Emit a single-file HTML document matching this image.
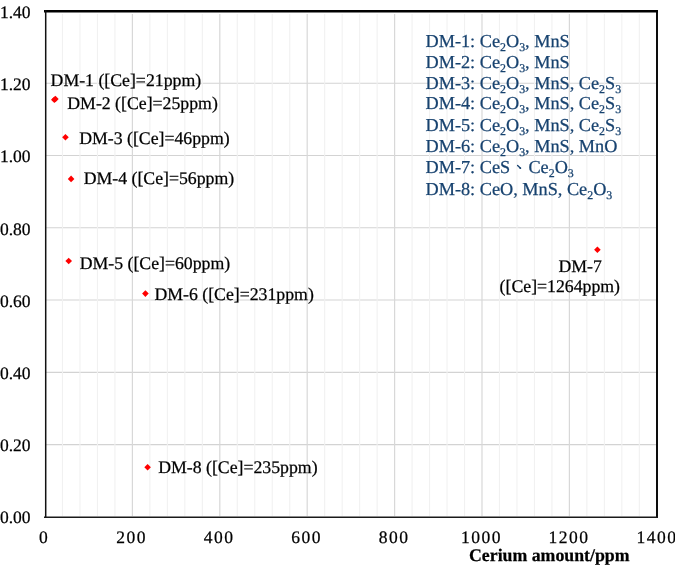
<!DOCTYPE html>
<html><head><meta charset="utf-8"><style>
html,body{margin:0;padding:0;background:#fff;}
body{width:675px;height:565px;position:relative;overflow:hidden;font-family:"Liberation Serif",serif;color:#000;text-rendering:geometricPrecision;}
div{white-space:nowrap;line-height:normal;-webkit-text-stroke:0.25px currentColor;}
</style></head><body>
<svg width="675" height="565" style="position:absolute;left:0;top:0"><line x1="46" y1="444.62" x2="656" y2="444.62" stroke="#d3d3d3" stroke-width="1.1"/>
<line x1="46" y1="372.34" x2="656" y2="372.34" stroke="#d3d3d3" stroke-width="1.1"/>
<line x1="46" y1="300.06" x2="656" y2="300.06" stroke="#d3d3d3" stroke-width="1.1"/>
<line x1="46" y1="227.78" x2="656" y2="227.78" stroke="#d3d3d3" stroke-width="1.1"/>
<line x1="46" y1="155.50" x2="656" y2="155.50" stroke="#d3d3d3" stroke-width="1.1"/>
<line x1="46" y1="83.22" x2="656" y2="83.22" stroke="#d3d3d3" stroke-width="1.1"/>
<line x1="62.48" y1="14" x2="62.48" y2="516" stroke="#f1f1f1" stroke-width="1.1"/>
<line x1="79.96" y1="14" x2="79.96" y2="516" stroke="#f1f1f1" stroke-width="1.1"/>
<line x1="97.44" y1="14" x2="97.44" y2="516" stroke="#f1f1f1" stroke-width="1.1"/>
<line x1="114.92" y1="14" x2="114.92" y2="516" stroke="#f1f1f1" stroke-width="1.1"/>
<line x1="149.88" y1="14" x2="149.88" y2="516" stroke="#f1f1f1" stroke-width="1.1"/>
<line x1="167.36" y1="14" x2="167.36" y2="516" stroke="#f1f1f1" stroke-width="1.1"/>
<line x1="184.84" y1="14" x2="184.84" y2="516" stroke="#f1f1f1" stroke-width="1.1"/>
<line x1="202.32" y1="14" x2="202.32" y2="516" stroke="#f1f1f1" stroke-width="1.1"/>
<line x1="237.28" y1="14" x2="237.28" y2="516" stroke="#f1f1f1" stroke-width="1.1"/>
<line x1="254.76" y1="14" x2="254.76" y2="516" stroke="#f1f1f1" stroke-width="1.1"/>
<line x1="272.24" y1="14" x2="272.24" y2="516" stroke="#f1f1f1" stroke-width="1.1"/>
<line x1="289.72" y1="14" x2="289.72" y2="516" stroke="#f1f1f1" stroke-width="1.1"/>
<line x1="324.68" y1="14" x2="324.68" y2="516" stroke="#f1f1f1" stroke-width="1.1"/>
<line x1="342.16" y1="14" x2="342.16" y2="516" stroke="#f1f1f1" stroke-width="1.1"/>
<line x1="359.64" y1="14" x2="359.64" y2="516" stroke="#f1f1f1" stroke-width="1.1"/>
<line x1="377.12" y1="14" x2="377.12" y2="516" stroke="#f1f1f1" stroke-width="1.1"/>
<line x1="412.08" y1="14" x2="412.08" y2="516" stroke="#f1f1f1" stroke-width="1.1"/>
<line x1="429.56" y1="14" x2="429.56" y2="516" stroke="#f1f1f1" stroke-width="1.1"/>
<line x1="447.04" y1="14" x2="447.04" y2="516" stroke="#f1f1f1" stroke-width="1.1"/>
<line x1="464.52" y1="14" x2="464.52" y2="516" stroke="#f1f1f1" stroke-width="1.1"/>
<line x1="499.48" y1="14" x2="499.48" y2="516" stroke="#f1f1f1" stroke-width="1.1"/>
<line x1="516.96" y1="14" x2="516.96" y2="516" stroke="#f1f1f1" stroke-width="1.1"/>
<line x1="534.44" y1="14" x2="534.44" y2="516" stroke="#f1f1f1" stroke-width="1.1"/>
<line x1="551.92" y1="14" x2="551.92" y2="516" stroke="#f1f1f1" stroke-width="1.1"/>
<line x1="586.88" y1="14" x2="586.88" y2="516" stroke="#f1f1f1" stroke-width="1.1"/>
<line x1="604.36" y1="14" x2="604.36" y2="516" stroke="#f1f1f1" stroke-width="1.1"/>
<line x1="621.84" y1="14" x2="621.84" y2="516" stroke="#f1f1f1" stroke-width="1.1"/>
<line x1="639.32" y1="14" x2="639.32" y2="516" stroke="#f1f1f1" stroke-width="1.1"/>
<line x1="132.40" y1="14" x2="132.40" y2="516" stroke="#d8d8d8" stroke-width="1.2"/>
<line x1="219.80" y1="14" x2="219.80" y2="516" stroke="#d8d8d8" stroke-width="1.2"/>
<line x1="307.20" y1="14" x2="307.20" y2="516" stroke="#d8d8d8" stroke-width="1.2"/>
<line x1="394.60" y1="14" x2="394.60" y2="516" stroke="#d8d8d8" stroke-width="1.2"/>
<line x1="482.00" y1="14" x2="482.00" y2="516" stroke="#d8d8d8" stroke-width="1.2"/>
<line x1="569.40" y1="14" x2="569.40" y2="516" stroke="#d8d8d8" stroke-width="1.2"/>
<line x1="44" y1="11.3" x2="658" y2="11.3" stroke="#000" stroke-width="2.6"/>
<line x1="45.7" y1="10" x2="45.7" y2="517" stroke="#111" stroke-width="1.5"/>
<line x1="657" y1="10" x2="657" y2="517" stroke="#000" stroke-width="1.9"/>
<line x1="44" y1="517.35" x2="658" y2="517.35" stroke="#1a1a1a" stroke-width="1.5"/>
<polygon points="55.4,95.7 58.699999999999996,99.0 55.4,102.3 52.1,99.0" fill="#ff0000"/>
<polygon points="54.3,96.4 57.599999999999994,99.7 54.3,103.0 51.0,99.7" fill="#ff0000"/>
<polygon points="65.45,134.0 68.75,137.3 65.45,140.60000000000002 62.150000000000006,137.3" fill="#ff0000"/>
<polygon points="71.1,175.6 74.39999999999999,178.9 71.1,182.20000000000002 67.8,178.9" fill="#ff0000"/>
<polygon points="68.7,257.7 72.0,261.0 68.7,264.3 65.4,261.0" fill="#ff0000"/>
<polygon points="145.4,290.3 148.70000000000002,293.6 145.4,296.90000000000003 142.1,293.6" fill="#ff0000"/>
<polygon points="597.4,246.39999999999998 600.6999999999999,249.7 597.4,253.0 594.1,249.7" fill="#ff0000"/>
<polygon points="147.6,464.0 150.9,467.3 147.6,470.6 144.29999999999998,467.3" fill="#ff0000"/></svg>
<div style="position:absolute;left:0;top:0;width:675px;height:565px;will-change:transform"><div style="position:absolute;right:644.5px;top:507px;font-size:17.5px">0.00</div><div style="position:absolute;right:644.5px;top:435px;font-size:17.5px">0.20</div><div style="position:absolute;right:644.5px;top:363px;font-size:17.5px">0.40</div><div style="position:absolute;right:644.5px;top:291px;font-size:17.5px">0.60</div><div style="position:absolute;right:644.5px;top:219px;font-size:17.5px">0.80</div><div style="position:absolute;right:644.5px;top:146px;font-size:17.5px">1.00</div><div style="position:absolute;right:644.5px;top:74px;font-size:17.5px">1.20</div><div style="position:absolute;right:644.5px;top:2px;font-size:17.5px">1.40</div><div style="position:absolute;left:4.00px;width:80px;text-align:center;top:527px;font-size:17.5px;letter-spacing:1.5px">0</div><div style="position:absolute;left:91.50px;width:80px;text-align:center;top:527px;font-size:17.5px;letter-spacing:1.5px">200</div><div style="position:absolute;left:179.00px;width:80px;text-align:center;top:527px;font-size:17.5px;letter-spacing:1.5px">400</div><div style="position:absolute;left:266.50px;width:80px;text-align:center;top:527px;font-size:17.5px;letter-spacing:1.5px">600</div><div style="position:absolute;left:354.00px;width:80px;text-align:center;top:527px;font-size:17.5px;letter-spacing:1.5px">800</div><div style="position:absolute;left:441.50px;width:80px;text-align:center;top:527px;font-size:17.5px;letter-spacing:1.5px">1000</div><div style="position:absolute;left:529.00px;width:80px;text-align:center;top:527px;font-size:17.5px;letter-spacing:1.5px">1200</div><div style="position:absolute;left:617.10px;width:80px;text-align:center;top:527px;font-size:17.5px;letter-spacing:1.5px">1400</div><div style="position:absolute;left:50.6px;top:70px;font-size:17.75px;color:#000;font-weight:normal;letter-spacing:0px;">DM-1 ([Ce]=21ppm)</div><div style="position:absolute;left:67.3px;top:93px;font-size:17.75px;color:#000;font-weight:normal;letter-spacing:0px;">DM-2 ([Ce]=25ppm)</div><div style="position:absolute;left:79.15px;top:128px;font-size:17.75px;color:#000;font-weight:normal;letter-spacing:0px;">DM-3 ([Ce]=46ppm)</div><div style="position:absolute;left:83.7px;top:168px;font-size:17.75px;color:#000;font-weight:normal;letter-spacing:0px;">DM-4 ([Ce]=56ppm)</div><div style="position:absolute;left:79.7px;top:253px;font-size:17.75px;color:#000;font-weight:normal;letter-spacing:0px;">DM-5 ([Ce]=60ppm)</div><div style="position:absolute;left:154.45px;top:284px;font-size:17.75px;color:#000;font-weight:normal;letter-spacing:0px;">DM-6 ([Ce]=231ppm)</div><div style="position:absolute;left:558.45px;top:256px;font-size:17.75px;color:#000;font-weight:normal;letter-spacing:0px;">DM-7</div><div style="position:absolute;left:499.6px;top:276px;font-size:17.75px;color:#000;font-weight:normal;letter-spacing:0px;">([Ce]=1264ppm)</div><div style="position:absolute;left:158.2px;top:457px;font-size:17.75px;color:#000;font-weight:normal;letter-spacing:0px;">DM-8 ([Ce]=235ppm)</div><div style="position:absolute;left:425.5px;top:31px;font-size:18.25px;color:#17426F;font-weight:normal;letter-spacing:0px;">DM-1: Ce<span style="font-size:0.65em;position:relative;top:0.37em">2</span>O<span style="font-size:0.65em;position:relative;top:0.37em">3</span>, MnS</div><div style="position:absolute;left:425.5px;top:52px;font-size:18.25px;color:#17426F;font-weight:normal;letter-spacing:0px;">DM-2: Ce<span style="font-size:0.65em;position:relative;top:0.37em">2</span>O<span style="font-size:0.65em;position:relative;top:0.37em">3</span>, MnS</div><div style="position:absolute;left:425.5px;top:73px;font-size:18.25px;color:#17426F;font-weight:normal;letter-spacing:0px;">DM-3: Ce<span style="font-size:0.65em;position:relative;top:0.37em">2</span>O<span style="font-size:0.65em;position:relative;top:0.37em">3</span>, MnS, Ce<span style="font-size:0.65em;position:relative;top:0.37em">2</span>S<span style="font-size:0.65em;position:relative;top:0.37em">3</span></div><div style="position:absolute;left:425.5px;top:93px;font-size:18.25px;color:#17426F;font-weight:normal;letter-spacing:0px;">DM-4: Ce<span style="font-size:0.65em;position:relative;top:0.37em">2</span>O<span style="font-size:0.65em;position:relative;top:0.37em">3</span>, MnS, Ce<span style="font-size:0.65em;position:relative;top:0.37em">2</span>S<span style="font-size:0.65em;position:relative;top:0.37em">3</span></div><div style="position:absolute;left:425.5px;top:115px;font-size:18.25px;color:#17426F;font-weight:normal;letter-spacing:0px;">DM-5: Ce<span style="font-size:0.65em;position:relative;top:0.37em">2</span>O<span style="font-size:0.65em;position:relative;top:0.37em">3</span>, MnS, Ce<span style="font-size:0.65em;position:relative;top:0.37em">2</span>S<span style="font-size:0.65em;position:relative;top:0.37em">3</span></div><div style="position:absolute;left:425.5px;top:136px;font-size:18.25px;color:#17426F;font-weight:normal;letter-spacing:0px;">DM-6: Ce<span style="font-size:0.65em;position:relative;top:0.37em">2</span>O<span style="font-size:0.65em;position:relative;top:0.37em">3</span>, MnS, MnO</div><div style="position:absolute;left:425.5px;top:157px;font-size:18.25px;color:#17426F;font-weight:normal;letter-spacing:0px;">DM-7: CeS<span style="display:inline-block;width:1em;height:1px;position:relative"><svg width="19" height="10" style="position:absolute;left:0;top:-8px;overflow:visible"><path d="M7.6,1.5 L10.5,4.3" stroke="#17426F" stroke-width="1.3" stroke-linecap="round"/><circle cx="10.3" cy="4.1" r="0.95" fill="#17426F"/></svg></span>Ce<span style="font-size:0.65em;position:relative;top:0.37em">2</span>O<span style="font-size:0.65em;position:relative;top:0.37em">3</span></div><div style="position:absolute;left:425.5px;top:179px;font-size:18.25px;color:#17426F;font-weight:normal;letter-spacing:0px;">DM-8: CeO, MnS, Ce<span style="font-size:0.65em;position:relative;top:0.37em">2</span>O<span style="font-size:0.65em;position:relative;top:0.37em">3</span></div><div style="position:absolute;left:469.0px;top:545px;font-size:17.8px;color:#000;font-weight:bold;letter-spacing:0px;">Cerium amount/ppm</div></div>
</body></html>
